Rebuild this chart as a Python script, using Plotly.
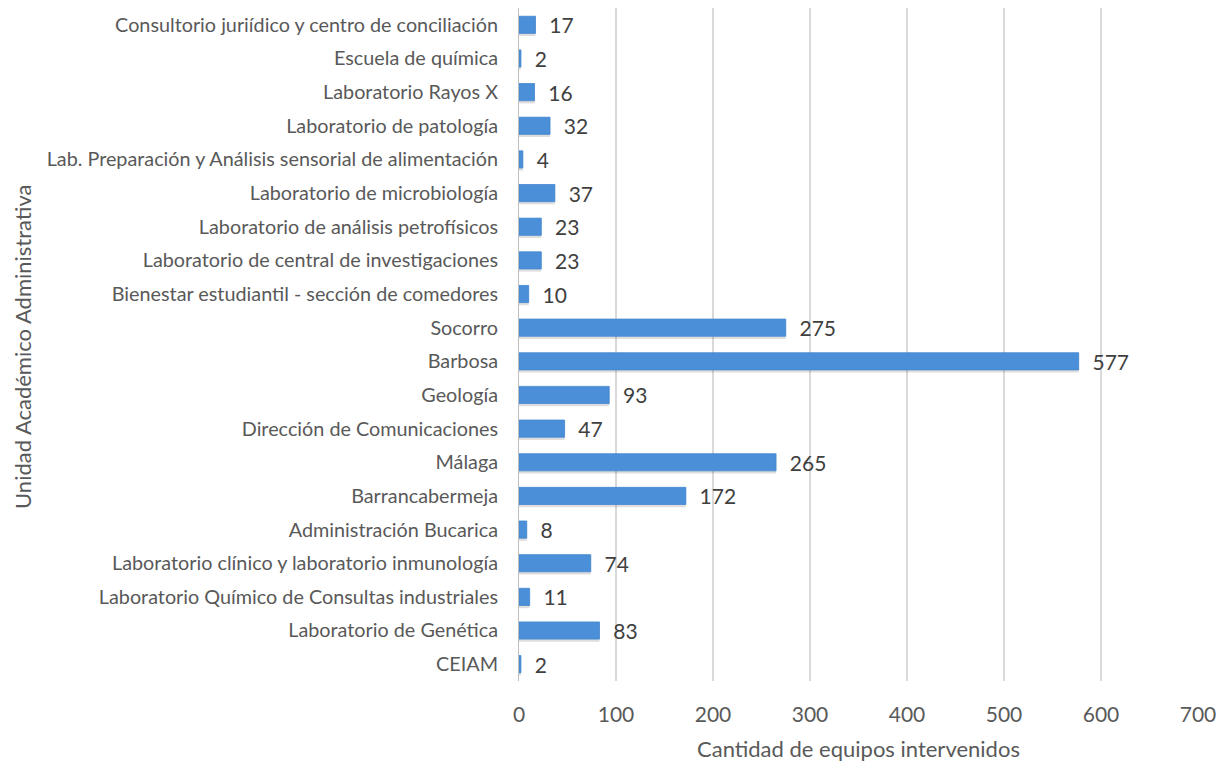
import plotly.graph_objects as go

categories = [
    "Consultorio juriídico y centro de conciliación",
    "Escuela de química",
    "Laboratorio Rayos X",
    "Laboratorio de patología",
    "Lab. Preparación y Análisis sensorial de alimentación",
    "Laboratorio de microbiología",
    "Laboratorio de análisis petrofísicos",
    "Laboratorio de central de investigaciones",
    "Bienestar estudiantil - sección de comedores",
    "Socorro",
    "Barbosa",
    "Geología",
    "Dirección de Comunicaciones",
    "Málaga",
    "Barrancabermeja",
    "Administración Bucarica",
    "Laboratorio clínico y laboratorio inmunología",
    "Laboratorio Químico de Consultas industriales",
    "Laboratorio de Genética",
    "CEIAM",
]
values = [17, 2, 16, 32, 4, 37, 23, 23, 10, 275, 577, 93, 47, 265, 172, 8, 74, 11, 83, 2]
x_ticks = [0, 100, 200, 300, 400, 500, 600, 700]

FONT = "Lato"
GRAY = "#595959"
BAR_W = 0.51

fig = go.Figure()
# soft drop shadow under each bar
fig.add_trace(go.Bar(
    y=categories, x=values, orientation="h",
    width=BAR_W, offset=-BAR_W / 2 - 0.08,
    marker=dict(color="rgba(0,0,0,0.13)", line=dict(width=0)),
    hoverinfo="skip",
))
fig.add_trace(go.Bar(
    y=categories, x=values, orientation="h",
    width=BAR_W,
    marker=dict(color="#4A8FD8", line=dict(color="#4486D0", width=0.8)),
    texttemplate="\u00a0\u00a0%{x}", textposition="outside",
    textfont=dict(size=21, color="#404040", family=FONT),
    constraintext="none", cliponaxis=False,
))
fig.update_layout(
    width=1222, height=761,
    margin=dict(l=519, r=24, t=8, b=80),
    paper_bgcolor="white", plot_bgcolor="white",
    barmode="overlay", showlegend=False,
    font=dict(family=FONT, color=GRAY),
    annotations=[
        dict(text="Unidad Académico Administrativa", xref="paper", yref="paper",
             x=-0.7305, y=0.4963, xanchor="center", yanchor="middle", textangle=-90,
             showarrow=False, font=dict(size=22, color=GRAY, family=FONT)),
        dict(text="Cantidad de equipos intervenidos", xref="paper", yref="paper",
             x=0.5, y=-0.0996, xanchor="center", yanchor="middle",
             showarrow=False, font=dict(size=22, color=GRAY, family=FONT)),
    ],
)
fig.update_yaxes(
    categoryorder="array", categoryarray=categories[::-1],
    tickfont=dict(size=19.8, color=GRAY, family=FONT),
    showline=True, linecolor="#bfbfbf", linewidth=1, ticks="outside", ticklen=0,
    ticklabelstandoff=16, automargin=False,
)
fig.update_xaxes(
    range=[0, 700], tickvals=x_ticks, ticktext=[str(t) for t in x_ticks],
    tickfont=dict(size=21, color=GRAY, family=FONT),
    ticks="outside", ticklen=0, ticklabelstandoff=15,
    showgrid=True, gridcolor="#d9d9d9", gridwidth=1.5, zeroline=False,
    automargin=False,
)
fig.write_html("out.html", config={"displayModeBar": False},
               post_script="document.body.style.margin='0';document.body.style.overflow='hidden';")
